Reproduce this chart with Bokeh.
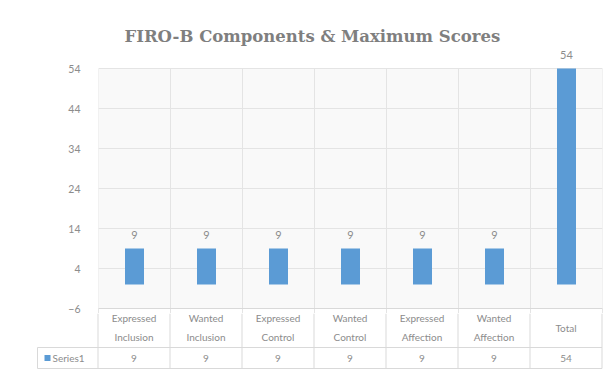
from bokeh.plotting import figure
from bokeh.layouts import column
from bokeh.models import Range1d, FixedTicker
from bokeh.embed import file_html
from bokeh.resources import INLINE
from bokeh.core.properties import value

# ---- data ----
categories = ["Expressed Inclusion", "Wanted Inclusion", "Expressed Control",
              "Wanted Control", "Expressed Affection", "Wanted Affection", "Total"]
scores = [9, 9, 9, 9, 9, 9, 54]
y_ticks = [-6, 4, 14, 24, 34, 44, 54]
series_name = "Series1"
title_text = "FIRO-B Components  & Maximum Scores"

# ---- styling ----
BAR = "#5b9bd5"
TEXT = "#8c8c8c"
GRID = "#e4e4e4"
TABLE = "#d9d9d9"
FONT = "Lato"

n = len(categories)
x_pos = [i + 0.5 for i in range(n)]
y_lo, y_hi = y_ticks[0], y_ticks[-1]
PX = 4.0                      # pixels per score unit
TOP_H = 313
y_end = 71
y_start = y_end - TOP_H / PX

# ---- chart part ----
top = figure(width=610, height=TOP_H, x_range=Range1d(0, n), y_range=Range1d(y_start, y_end),
             output_backend="svg", toolbar_location=None,
             min_border_left=98, min_border_right=8, min_border_top=0, min_border_bottom=0)
top.frame_align = False
top.outline_line_color = None
top.background_fill_color = "white"
top.xaxis.visible = False
top.xgrid.visible = False

yax = top.yaxis[0]
yax.ticker = FixedTicker(ticks=y_ticks)
yax.axis_line_color = None
yax.major_tick_line_color = None
yax.minor_tick_line_color = None
yax.major_label_standoff = 12
yax.major_label_text_font = FONT
yax.major_label_text_font_size = "10.5px"
yax.major_label_text_color = TEXT
top.ygrid.grid_line_color = GRID
top.ygrid.ticker = FixedTicker(ticks=y_ticks)

# plot area fill, under the grid
top.quad(left=[0], right=[n], bottom=[y_lo], top=[y_hi], fill_color="#f9f9f9",
         line_color=None, level="underlay")
# category separators (continue down into the table's first row)
top.segment(x0=list(range(n + 1)), x1=list(range(n + 1)),
            y0=[y_start] * (n + 1), y1=[y_hi] * (n + 1), line_color=GRID, line_width=1)
top.segment(x0=[0, n], x1=[0, n], y0=[y_start] * 2, y1=[y_lo] * 2, line_color=TABLE, line_width=1)
top.segment(x0=[0], x1=[n], y0=[y_lo], y1=[y_lo], line_color=TABLE, line_width=1)

top.vbar(x=x_pos, top=scores, bottom=0, width=19 / 72, fill_color=BAR, line_color=None)
top.text(x=x_pos, y=scores, text=[str(s) for s in scores], y_offset=-14,
         text_align="center", text_baseline="middle", text_font=value(FONT),
         text_font_size="11px", text_color=TEXT)

top.text(x=[3.01], y=[62], text=[title_text], text_align="center", text_baseline="middle",
         text_font=value("DejaVu Serif"), text_font_style="bold",
         text_font_size="16.5px", text_color="#7f7f7f")

# ---- data table part (y = pixels below the plot's bottom gridline) ----
x0_tab = -(97.5 - 33) / 72
x1_tab = x0_tab + (610 - 33 - 5) / 72
tab_top = TOP_H - 308
tab = figure(width=610, height=372 - TOP_H, x_range=Range1d(x0_tab, x1_tab),
             y_range=Range1d(64, tab_top),
             output_backend="svg", toolbar_location=None,
             min_border_left=33, min_border_right=5, min_border_top=0, min_border_bottom=0)
tab.frame_align = False
tab.outline_line_color = None
tab.xaxis.visible = False
tab.yaxis.visible = False
tab.grid.visible = False

key_left = -(97.5 - 37) / 72
# horizontal rules
tab.segment(x0=[key_left, key_left], x1=[n, n], y0=[39, 60], y1=[39, 60],
            line_color=TABLE, line_width=1)
# vertical rules
tab.segment(x0=list(range(n + 1)), x1=list(range(n + 1)),
            y0=[tab_top] * (n + 1), y1=[60] * (n + 1), line_color=TABLE, line_width=1)
tab.segment(x0=[key_left], x1=[key_left], y0=[39], y1=[60], line_color=TABLE, line_width=1)

tab.text(x=x_pos, y=[19] * n, text=[c.replace(" ", "\n") for c in categories],
         text_align="center", text_baseline="middle", text_font=value(FONT),
         text_font_size="10px", text_color=TEXT, text_line_height=1.55)
tab.text(x=x_pos, y=[49.5] * n, text=[str(s) for s in scores],
         text_align="center", text_baseline="middle", text_font=value(FONT),
         text_font_size="10px", text_color=TEXT)

# legend key of the table row
tab.scatter(x=[key_left + 10 / 72], y=[49.5], marker="square", size=6, fill_color=BAR, line_color=None)
tab.text(x=[key_left + 15 / 72], y=[49.5], text=[series_name], text_align="left",
         text_baseline="middle", text_font=value(FONT), text_font_size="10px", text_color=TEXT)

layout = column(top, tab, spacing=0)
open("out.html", "w").write(file_html(layout, INLINE))
